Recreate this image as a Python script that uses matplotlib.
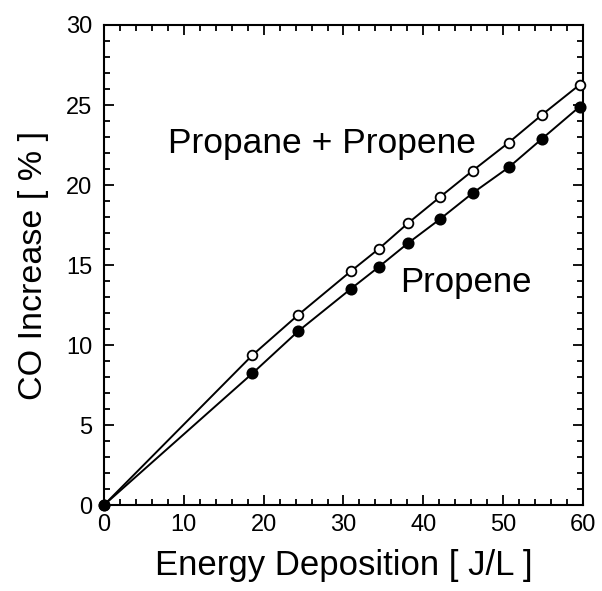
import matplotlib
matplotlib.use('Agg')
import matplotlib.pyplot as plt
from matplotlib.ticker import MultipleLocator

plt.rcParams['font.family'] = ['Liberation Sans', 'DejaVu Sans']

# energy deposition (J/L) and CO increase (%)
energy = [0, 18.6, 24.3, 30.9, 34.4, 38.1, 42.1, 46.2, 50.7, 54.9, 59.6]
co_propane_propene = [0, 9.37, 11.87, 14.6, 16.0, 17.62, 19.25, 20.9, 22.65, 24.4, 26.27]
co_propene = [0, 8.23, 10.85, 13.5, 14.87, 16.37, 17.87, 19.5, 21.1, 22.9, 24.9]

fig = plt.figure(figsize=(6.02, 5.91), dpi=100)
ax = fig.add_axes([0.1728, 0.1455, 0.7955, 0.8122])

ax.plot(energy, co_propane_propene, '-o', color='black', mfc='white', mec='black',
        ms=7.0, mew=1.3, lw=1.4, clip_on=False, zorder=3)
ax.plot(energy, co_propene, '-o', color='black', mfc='black', mec='black',
        ms=7.5, mew=1.2, lw=1.4, clip_on=False, zorder=3)

ax.text(8.0, 22.0, 'Propane + Propene', fontsize=25.5)
ax.text(37.1, 13.3, 'Propene', fontsize=25)

ax.set_xlim(0, 60)
ax.set_ylim(0, 30)
ax.xaxis.set_major_locator(MultipleLocator(10))
ax.xaxis.set_minor_locator(MultipleLocator(2))
ax.yaxis.set_major_locator(MultipleLocator(5))
ax.yaxis.set_minor_locator(MultipleLocator(1))
ax.tick_params(which='both', direction='in', top=True, right=True, width=1.3)
ax.tick_params(which='major', length=7, labelsize=17)
ax.tick_params(axis='x', which='major', pad=6.5)
ax.tick_params(axis='y', which='major', pad=8.5)
ax.tick_params(which='minor', length=4)
for s in ax.spines.values():
    s.set_linewidth(1.5)

ax.set_xlabel('Energy Deposition [ J/L ]', fontsize=25, labelpad=9)
ax.set_ylabel('CO Increase [ % ]', fontsize=24.5, labelpad=12)

fig.savefig('out.png', dpi=100)
